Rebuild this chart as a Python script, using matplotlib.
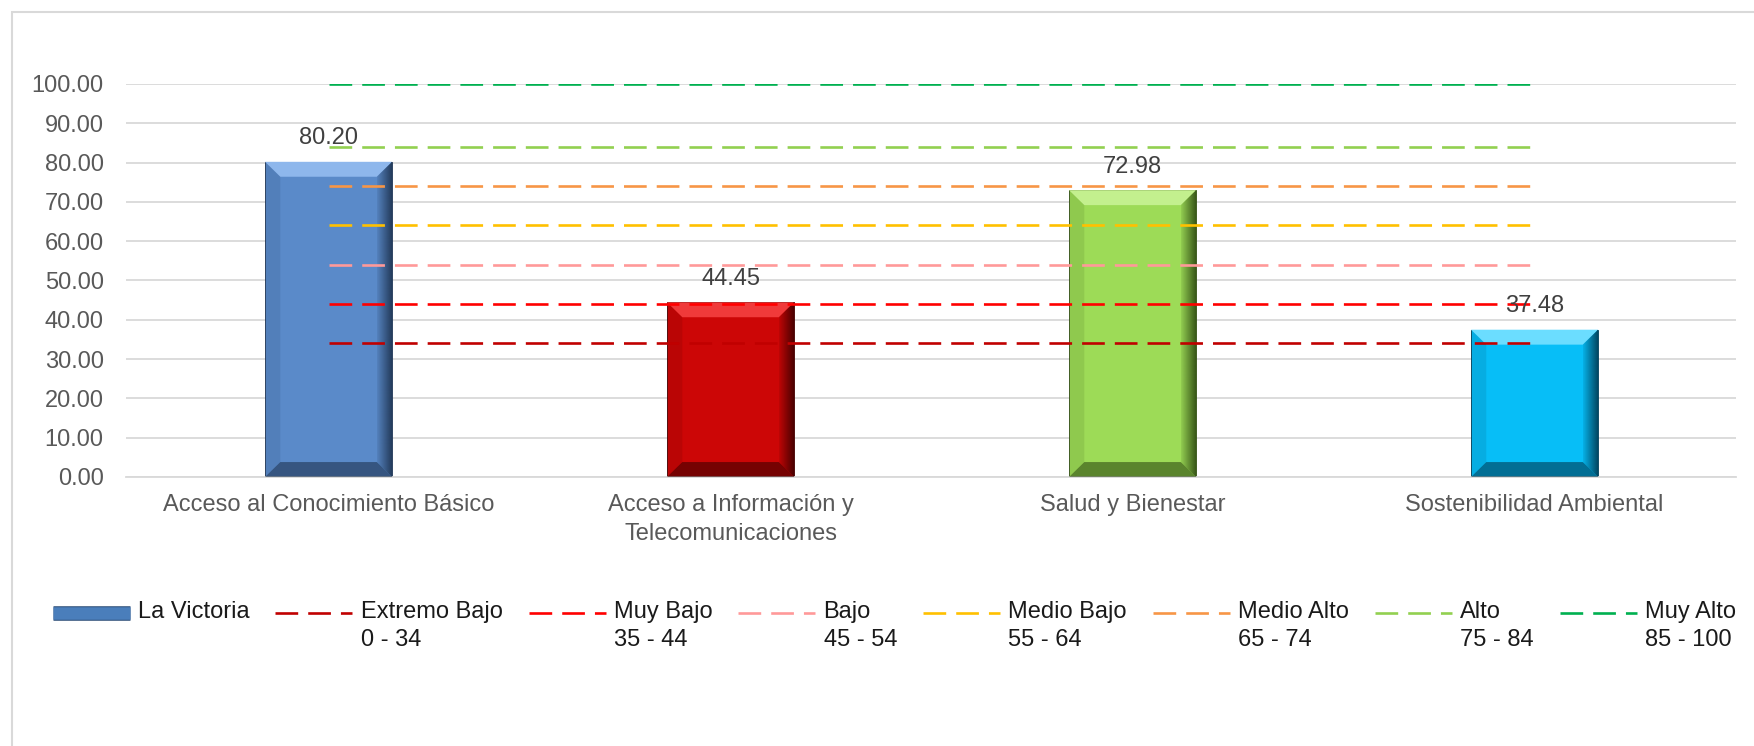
import numpy as np
import matplotlib.pyplot as plt
from matplotlib.patches import Polygon, Rectangle
from matplotlib.lines import Line2D
from matplotlib.legend_handler import HandlerLine2D
import matplotlib.patheffects as pe

plt.rcParams['font.family'] = ['Liberation Sans', 'DejaVu Sans']

# Data
categories = ['Acceso al Conocimiento Básico',
              'Acceso a Información y\nTelecomunicaciones',
              'Salud y Bienestar',
              'Sostenibilidad Ambiental']
values = [80.20, 44.45, 72.98, 37.48]
bar_colors = ['#5A8AC9', '#CC0606', '#9DDB57', '#07BEF7']
light_colors = ['#8EB7EC', '#F03A3A', '#C3F08E', '#6BDDFF']
dark_colors = ['#1E3350', '#3D0000', '#2E4A12', '#003A52']

levels = ['Extremo Bajo', 'Muy Bajo', 'Bajo', 'Medio Bajo', 'Medio Alto', 'Alto', 'Muy Alto']
ranges = ['0 - 34', '35 - 44', '45 - 54', '55 - 64', '65 - 74', '75 - 84', '85 - 100']
thresholds = [34, 44, 54, 64, 74, 84, 100]
level_colors = ['#C00000', '#FF0000', '#FF9999', '#FFC000', '#F79646', '#92D050', '#00B050']


class RaisedLine(HandlerLine2D):
    # put the legend handle next to the first line of a two-line label
    def create_artists(self, legend, orig_handle, xdescent, ydescent,
                       width, height, fontsize, trans):
        arts = super().create_artists(legend, orig_handle, xdescent, ydescent,
                                      width, height, fontsize, trans)
        for a in arts:
            a.set_ydata(np.asarray(a.get_ydata()) + 10.0)
        return arts


def bevel(ax, x0, w, h, hi, lo):
    # fake the excel bevel look on a bar
    x1 = x0 + w
    dx = 0.038
    dy = min(3.8, h / 2)
    ax.add_patch(Polygon([[x0, h], [x1, h], [x1 - dx, h - dy], [x0 + dx, h - dy]],
                         closed=True, fc=hi, ec='none', zorder=3))
    ax.add_patch(Polygon([[x0, 0], [x1, 0], [x1 - dx, dy], [x0 + dx, dy]],
                         closed=True, fc=lo, ec='none', alpha=0.6, zorder=3))
    ax.add_patch(Polygon([[x0, 0], [x0, h], [x0 + dx, h - dy], [x0 + dx, dy]],
                         closed=True, fc=lo, ec='none', alpha=0.12, zorder=3))
    right = Polygon([[x1, 0], [x1, h], [x1 - dx, h - dy], [x1 - dx, dy]],
                    closed=True, fc='none', ec='none')
    ax.add_patch(right)
    rgb = plt.matplotlib.colors.to_rgb(lo)
    grad = np.zeros((1, 64, 4))
    grad[..., :3] = rgb
    grad[..., 3] = np.linspace(0.1, 0.95, 64)
    im = ax.imshow(grad, extent=(x1 - dx, x1, 0, h), aspect='auto',
                   interpolation='bilinear', zorder=3)
    im.set_clip_path(right)


fig = plt.figure(figsize=(17.54, 7.46), dpi=100)
ax = fig.add_axes([0.0718, 0.3606, 0.9179, 0.5268])

x = np.arange(len(categories))
width = 0.316
bars = ax.bar(x, values, width=width, color=bar_colors, edgecolor=dark_colors,
              linewidth=0.6, zorder=2)
for b, hi, lo in zip(bars, light_colors, dark_colors):
    bevel(ax, b.get_x(), b.get_width(), b.get_height(), hi, lo)

# reference bands
for t, c in zip(thresholds, level_colors):
    ax.plot([x[0], x[-1]], [t, t], color=c, lw=1.9, dashes=(8.6, 3.8), zorder=4)

# value labels
for xi, v in zip(x, values):
    ax.annotate(f'{v:.2f}', (xi, v), xytext=(0, 17), textcoords='offset points',
                ha='center', va='center', fontsize=17, color='#404040', zorder=6)

ax.set_xlim(-0.504, 3.501)
ax.set_ylim(0, 100)
ax.set_yticks(np.arange(0, 101, 10))
ax.set_yticklabels([f'{v:.2f}' for v in np.arange(0, 101, 10)])
ax.set_xticks(x)
ax.set_xticklabels(categories, linespacing=1.45)
ax.tick_params(axis='y', length=0, pad=16, labelsize=17, labelcolor='#595959')
ax.tick_params(axis='x', length=0, pad=12, labelsize=17, labelcolor='#595959')
ax.yaxis.grid(True, color='#D9D9D9', lw=1.3)
ax.set_axisbelow(True)
for s in ['top', 'right', 'left']:
    ax.spines[s].set_visible(False)
ax.spines['bottom'].set_color('#D9D9D9')
ax.spines['bottom'].set_linewidth(1.3)

# legend
handles = [Line2D([], [], color='#4A7EBB', lw=9, solid_capstyle='butt',
                  path_effects=[pe.Stroke(linewidth=10.5, foreground='#30507A'), pe.Normal()])]
labels = ['La Victoria\n ']
for lv, r, c in zip(levels, ranges, level_colors):
    handles.append(Line2D([], [], color=c, lw=1.9, dashes=(8.6, 3.8)))
    labels.append(f'{lv}\n{r}')

leg = fig.legend(handles, labels, loc='upper left', bbox_to_anchor=(0.030, 0.194),
                 ncol=8, frameon=False, fontsize=17, handlelength=3.26,
                 handletextpad=0.35, columnspacing=1.1, borderpad=0,
                 borderaxespad=0, handler_map={Line2D: RaisedLine()})
for t in leg.get_texts():
    t.set_color('#1A1A1A')
    t.set_linespacing(1.35)

# chart area border
fig.patches.append(Rectangle((12 / 1754, -0.1), 1.2, 1.1 - 12 / 746, transform=fig.transFigure,
                             fill=False, ec='#D9D9D9', lw=1.5, zorder=0))

fig.savefig('out.png', dpi=100)
